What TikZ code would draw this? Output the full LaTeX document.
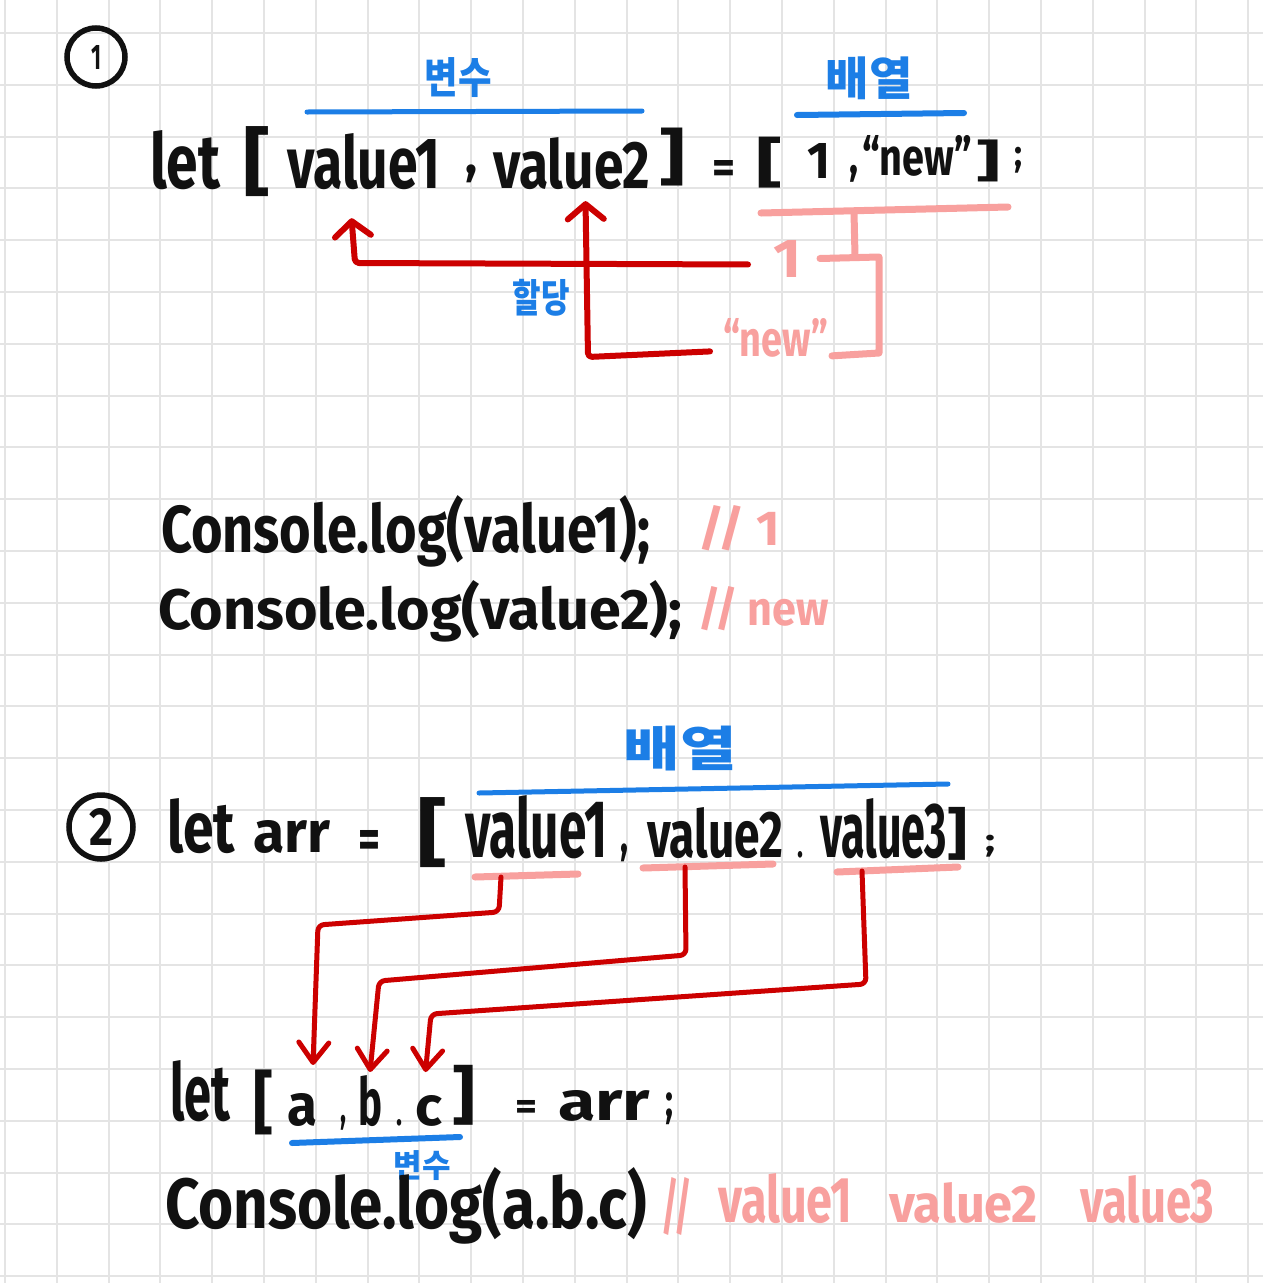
\documentclass[tikz,border=0pt]{standalone}
\usepackage{fontspec}
\usepackage{graphicx}
\setmainfont{Fira Sans}
\newfontfamily\kr{Noto Sans CJK KR}
\usetikzlibrary{arrows.meta,calc}
\definecolor{ink}{HTML}{111111}
\definecolor{hblue}{HTML}{1C7EE6}
\definecolor{hred}{HTML}{CC0000}
\definecolor{hpink}{HTML}{F8A09E}
\definecolor{gridc}{HTML}{E4E4E4}
\newcommand\rz[3]{\resizebox{#1pt}{#2pt}{#3}}
\newcommand\rzt[3]{\resizebox*{#1pt}{#2pt}{#3}}
\begin{document}
\begin{tikzpicture}[x=1pt,y=-1pt,
  gridline/.style={draw=gridc,line width=2pt},
  tok/.style={inner sep=0pt,outer sep=0pt,anchor=base west,text=ink,font=\bfseries},
  brk/.style={tok,anchor=south west},
  ptok/.style={tok,text=hpink},
  kor/.style={inner sep=0pt,outer sep=0pt,anchor=center,text=hblue,font=\kr\bfseries},
  circnum/.style={circle,draw=ink,line width=5.5pt,inner sep=0pt,text=ink,font=\bfseries},
  bluel/.style={draw=hblue,line width=5pt,line cap=round},
  pinkl/.style={draw=hpink,line width=7pt,line cap=round,line join=round},
  redarr/.style={draw=hred,line width=6pt,line cap=round,line join=round,rounded corners=4pt,
    -{Straight Barb[length=15pt,width=36pt,round]}},
  redarrb/.style={draw=hred,line width=5pt,line cap=round,line join=round,rounded corners=6pt,
    -{Straight Barb[length=20pt,width=30pt,round]}}
]
\fill[white] (0,0) rectangle (1263,1283);
\useasboundingbox (0,0) rectangle (1263,1283);
\foreach \i in {0,...,24}{
  \draw[gridline] ({5+51.8*\i},0) -- ({5+51.8*\i},1283);
  \draw[gridline] (0,{33+51.8*\i}) -- (1263,{33+51.8*\i});
}

% ---------- section 1 ----------
\node[circnum,minimum size=58pt] (c1) at (96,57) {\rz{10}{24}{1}};
\node[kor] (lbvar1) at (458,78) {\rzt{67}{40}{변수}};
\node[kor] (lbarr1) at (869,78) {\rzt{87}{43}{배열}};
\draw[bluel] (307,112) -- (642,111);
\draw[bluel,line width=6pt] (797,115) -- (964,113);

\node[tok] (let1) at (150,188) {\rz{70}{58}{let}};
\node[brk] (lb1) at (243,197) {\rzt{27}{70}{[}};
\node[tok] (v1) at (287,188) {\rz{153}{55}{value1}};
\node[brk] (cm1) at (465,183) {\rzt{12}{18}{,}};
\node[tok] (v2) at (493,188) {\rz{157}{51}{value2}};
\node[brk] (rb1) at (659,186) {\rzt{26}{58}{]}};
\node[tok] (eq1) at (712,183) {\rz{23}{23}{=}};
\node[brk] (lb2) at (756,188) {\rzt{26}{51}{[}};
\node[tok] (one1) at (807,178) {\rz{23}{35}{1}};
\node[brk] (cm2) at (849,182) {\rzt{9}{17}{,}};
\node[tok] (nw1) at (862,175) {\rz{110}{40}{“new”}};
\node[brk] (rb2) at (976,182) {\rzt{24}{42}{]}};
\node[brk] (sc1) at (1014,173) {\rzt{8}{26}{;}};

\draw[pinkl] (761,213) -- (1008,207);
\draw[pinkl] (854,212) -- (855,256);
\node[ptok] (p1) at (773,277) {\rz{28}{37}{1}};
\node[ptok] (pnew) at (723,356) {\rz{105}{38}{“new”}};
\draw[pinkl] ($(p1.east)+(19,0)$) -- (879,257) -- (879,353) -- ($(pnew.south east)+(4,-1)$);

\draw[redarr] ($(p1.west)+(-25,6)$) -- (355,263) -- ($(v1.south)+(-12,29)$);
\draw[redarr] ($(pnew.west)+(-13,14)$) -- (588,357) -- ($(v2.south)+(14,12)$);
\node[kor] (assign) at (541,298) {\rzt{57}{37}{할당}};

% ---------- section 2 ----------
\node[tok] (log1) at (161,552) {\rz{489}{57}{Console.log(value1);}};
\node[ptok] (cmt1) at (698,545) {\rz{82}{40}{// 1}};
\node[tok] (log2) at (158,629) {\rz{524}{49}{Console.log(value2);}};
\node[ptok] (cmt2) at (698,625) {\rz{131}{39}{// new}};

% ---------- section 3 ----------
\node[kor] (lbarr2) at (680,748) {\rzt{113}{45}{배열}};
\draw[bluel] (479,793) -- (948,784);
\node[circnum,minimum size=64pt] (c2) at (101,827) {\rz{24}{37}{2}};
\node[tok] (let2) at (167,852) {\rz{68}{54}{let}};
\node[tok] (arr2) at (253,852) {\rz{77}{32}{arr}};
\node[tok] (eq2) at (358,858) {\rz{22}{28}{=}};
\node[brk] (lb3) at (417,868) {\rzt{30}{70}{[}};
\node[tok] (w1) at (465,857) {\rz{142}{62}{value1}};
\node[brk] (cm3) at (620,862) {\rzt{8}{18}{,}};
\node[tok] (w2) at (647,857) {\rz{136}{50}{value2}};
\node[tok] (dt3) at (797,857) {\rz{6}{6}{.}};
\node[tok] (w3) at (820,857) {\rz{127}{59}{value3}};
\node[brk] (rb3) at (947,860) {\rzt{20}{53}{]}};
\node[brk] (sc3) at (985,857) {\rzt{10}{22}{;}};

\draw[pinkl] (475,877) -- (578,874);
\draw[pinkl] (643,868) -- (773,864);
\draw[pinkl] (837,872) -- (958,867);
\coordinate (s1) at (501,877);
\coordinate (s2) at (685,867);
\coordinate (s3) at (862,871);

\node[tok] (let3) at (170,1120) {\rz{60}{60}{let}};
\node[brk] (lb4) at (253,1135) {\rzt{20}{65}{[}};
\node[tok] (na) at (287,1125) {\rz{30}{32}{a}};
\node[brk] (cm4) at (340,1130) {\rzt{6}{15}{,}};
\node[tok] (nb) at (358,1125) {\rz{24}{50}{b}};
\node[tok] (dt4) at (396,1125) {\rz{6}{6}{.}};
\node[tok] (nc) at (415,1125) {\rz{27}{30}{c}};
\node[brk] (rb4) at (452,1125) {\rzt{23}{60}{]}};
\node[tok] (eq4) at (515,1119) {\rz{22}{19}{=}};
\node[tok] (arr4) at (558,1120) {\rz{92}{30}{arr}};
\node[brk] (sc4) at (665,1125) {\rzt{8}{32}{;}};
\draw[bluel,line width=6pt] (292,1143) -- (460,1137);
\node[kor] (lbvar2) at (422,1166) {\rzt{57}{30}{변수}};

\draw[redarrb] (s1) -- (499,912) -- (318,925) -- ($(na.north)+(11,-28)$);
\draw[redarrb] (s2) -- (686,955) -- (379,981) -- ($(nb.north)+(0,-3)$);
\draw[redarrb] (s3) -- (866,984) -- (431,1014) -- ($(nc.north)+(-3,-23)$);

\node[tok] (log3) at (165,1228) {\rz{482}{61}{Console.log(a.b.c)}};
\node[ptok] (sl) at (661,1228) {\rz{31}{51}{//}};
\node[ptok] (r1) at (718,1222) {\rz{134}{49}{value1}};
\node[ptok] (r2) at (889,1222) {\rz{149}{40}{value2}};
\node[ptok] (r3) at (1080,1222) {\rz{134}{47}{value3}};
\end{tikzpicture}
\end{document}
